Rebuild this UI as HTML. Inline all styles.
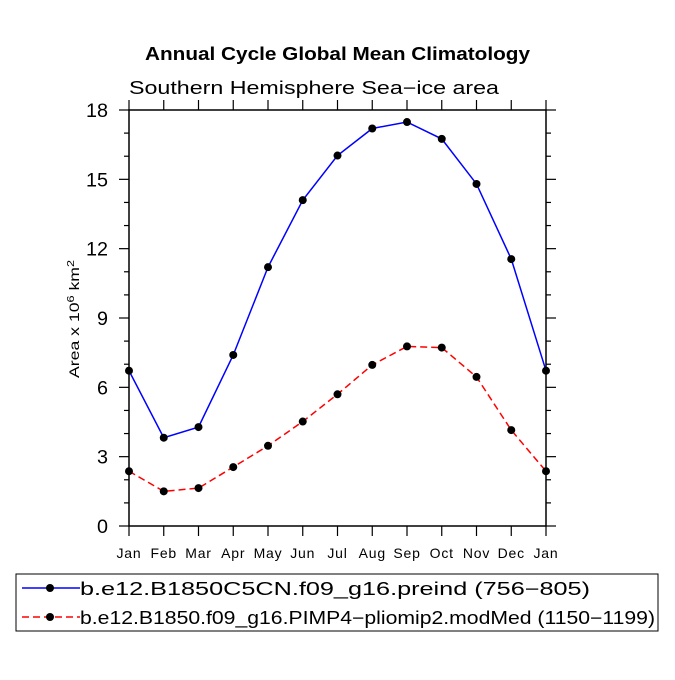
<!DOCTYPE html>
<html><head><meta charset="utf-8"><style>
body{margin:0;background:#fff;}
svg text{font-family:"Liberation Sans",sans-serif;}
</style></head><body>
<svg width="675" height="675" xmlns="http://www.w3.org/2000/svg">
<text x="145" y="60" font-size="18" font-weight="bold" textLength="385" lengthAdjust="spacingAndGlyphs">Annual Cycle Global Mean Climatology</text>
<text x="129" y="94" font-size="18" textLength="370" lengthAdjust="spacingAndGlyphs">Southern Hemisphere Sea−ice area</text>
<text transform="translate(79,378) rotate(-90)" font-size="14" textLength="118" lengthAdjust="spacingAndGlyphs">Area x 10<tspan dy="-5" font-size="10">6</tspan><tspan dy="5"> km</tspan><tspan dy="-5" font-size="10">2</tspan></text>
<g id="axes"></g>
<g id="series"></g>
<rect x="16" y="574" width="642" height="57" fill="none" stroke="#000"/>
<g id="legend"></g>
</svg>
<script>
const months=["Jan","Feb","Mar","Apr","May","Jun","Jul","Aug","Sep","Oct","Nov","Dec","Jan"];
const yTicks=[0,3,6,9,12,15,18];
const preind=[6.72,3.82,4.28,7.4,11.2,14.1,16.03,17.2,17.48,16.75,14.8,11.55,6.72];
const plio=[2.37,1.5,1.64,2.55,3.47,4.52,5.7,6.97,7.77,7.72,6.45,4.15,2.37];
const seriesNames=["b.e12.B1850C5CN.f09_g16.preind (756−805)","b.e12.B1850.f09_g16.PIMP4−pliomip2.modMed (1150−1199)"];
const legendLens=[510,575];
const NS="http://www.w3.org/2000/svg";
const L=129,R=546,T=110,B=526;
const xs=i=>L+(R-L)*i/(months.length-1);
const ys=v=>B-(B-T)*v/18;
function mk(tag,a,parent){const e=document.createElementNS(NS,tag);for(const k in a)e.setAttribute(k,a[k]);parent.appendChild(e);return e;}
const ax=document.getElementById('axes');
const frame=mk('rect',{x:L,y:T,width:R-L,height:B-T,fill:'none',stroke:'#000','stroke-width':1.5},ax);


for(let v=0;v<=18;v++){
  const major=v%3===0;const len=major?10:5;const y=ys(v);
  mk('line',{x1:L-len,y1:y,x2:L,y2:y,stroke:'#000','stroke-width':1.2},ax);
  mk('line',{x1:R,y1:y,x2:R+len,y2:y,stroke:'#000','stroke-width':1.2},ax);
}
yTicks.forEach(v=>{const t=mk('text',{x:L-21,y:ys(v)+7,'text-anchor':'end','font-size':19,textLength:String(v).length*11,lengthAdjust:'spacingAndGlyphs'},ax);t.textContent=v;

});
months.forEach((m,i)=>{const x=xs(i);
  mk('line',{x1:x,y1:B,x2:x,y2:B+10,stroke:'#000','stroke-width':1.2},ax);
  mk('line',{x1:x,y1:T-10,x2:x,y2:T,stroke:'#000','stroke-width':1.2},ax);
  const t=mk('text',{x:x,y:B+32,'text-anchor':'middle','font-size':14,'letter-spacing':0.8},ax);t.textContent=m;
  
  });
const sg=document.getElementById('series');
function drawSeries(vals,color,dash,name){
  const p=mk('polyline',{points:vals.map((v,i)=>xs(i)+','+ys(v)).join(' '),fill:'none',stroke:color,'stroke-width':1.5,'stroke-dasharray':dash},sg);
  
  
  vals.forEach((v,i)=>{const c=mk('circle',{cx:xs(i),cy:ys(v),r:4,fill:'#000'},sg);
    
    });
}
drawSeries(preind,'#0000ff','none','preind');
drawSeries(plio,'#ff0000','7,4','pliomip2');
const lg=document.getElementById('legend');
[["#0000ff","none",588],["#ff0000","7,4",617]].forEach((s,k)=>{
  const l=mk('line',{x1:22,y1:s[2],x2:80,y2:s[2],stroke:s[0],'stroke-width':1.5,'stroke-dasharray':s[1]},lg);
  
  
  mk('circle',{cx:50,cy:s[2],r:4,fill:'#000'},lg);
  const t=mk('text',{x:80,y:s[2]+7,'font-size':18,textLength:legendLens[k],lengthAdjust:'spacingAndGlyphs'},lg);t.textContent=seriesNames[k];
  
  
});
</script>
</body></html>
